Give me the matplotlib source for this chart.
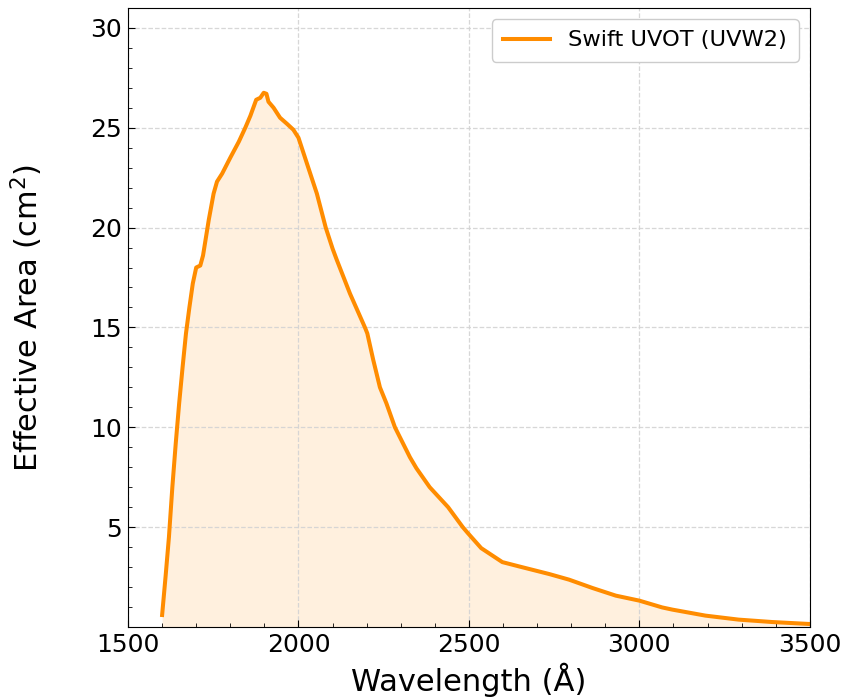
import numpy as np
import matplotlib
matplotlib.use("Agg")
import matplotlib.pyplot as plt
from matplotlib.ticker import AutoMinorLocator

# Swift UVOT UVW2 effective area
wavelength = [1600, 1610, 1620, 1630, 1640, 1650, 1660, 1670, 1680, 1690,
              1700, 1712, 1720, 1737, 1751, 1761, 1776, 1800, 1825, 1844,
              1859, 1876, 1888, 1898, 1906, 1912, 1927, 1946, 1966, 1985,
              2000, 2025, 2054, 2080, 2100, 2112, 2151, 2195, 2202, 2219,
              2239, 2258, 2283, 2327, 2346, 2385, 2439, 2482, 2497, 2536,
              2598, 2648, 2736, 2794, 2863, 2931, 3000, 3067, 3097, 3194,
              3291, 3389, 3500]
eff_area = [0.6, 2.5, 4.5, 7.0, 9.2, 11.2, 13.0, 14.7, 16.0, 17.2,
            18.0, 18.1, 18.6, 20.4, 21.7, 22.3, 22.7, 23.5, 24.3, 25.0,
            25.6, 26.4, 26.5, 26.75, 26.7, 26.3, 26.0, 25.5, 25.2, 24.9,
            24.5, 23.2, 21.7, 20.0, 18.95, 18.4, 16.7, 15.0, 14.7, 13.4,
            12.0, 11.2, 10.0, 8.5, 7.95, 7.0, 6.0, 5.0, 4.7, 3.95,
            3.25, 3.03, 2.65, 2.37, 1.95, 1.57, 1.32, 0.98, 0.87, 0.57,
            0.37, 0.25, 0.15]
label = "Swift UVOT (UVW2)"
color = "#FF8C00"

fig = plt.figure(figsize=(8.49, 6.99), dpi=100)
ax = fig.add_axes([0.1508, 0.103, 0.803, 0.8857])

ax.plot(wavelength, eff_area, color=color, lw=2.9, label=label)
ax.fill_between(wavelength, eff_area, 0, color=color, alpha=0.13, lw=0)

ax.set_xlim(1500, 3500)
ax.set_ylim(0, 31)
ax.set_xticks([1500, 2000, 2500, 3000, 3500])
ax.set_yticks([5, 10, 15, 20, 25, 30])
ax.xaxis.set_minor_locator(AutoMinorLocator(5))
ax.yaxis.set_minor_locator(AutoMinorLocator(5))
ax.tick_params(which="both", direction="in", labelsize=18, pad=4.5)
ax.tick_params(which="major", length=5)
ax.tick_params(which="minor", length=3)

ax.grid(True, which="major", ls="--", color="lightgray", lw=0.9, alpha=0.9)

ax.set_xlabel("Wavelength (Å)", fontsize=22, labelpad=4)
ax.set_ylabel("Effective Area (cm$^2$)", fontsize=22, labelpad=32)

ax.legend(loc="upper right", fontsize=16.2, framealpha=1,
          handlelength=2.1, handletextpad=0.8, borderpad=0.5)

fig.savefig("out.png", dpi=100)
